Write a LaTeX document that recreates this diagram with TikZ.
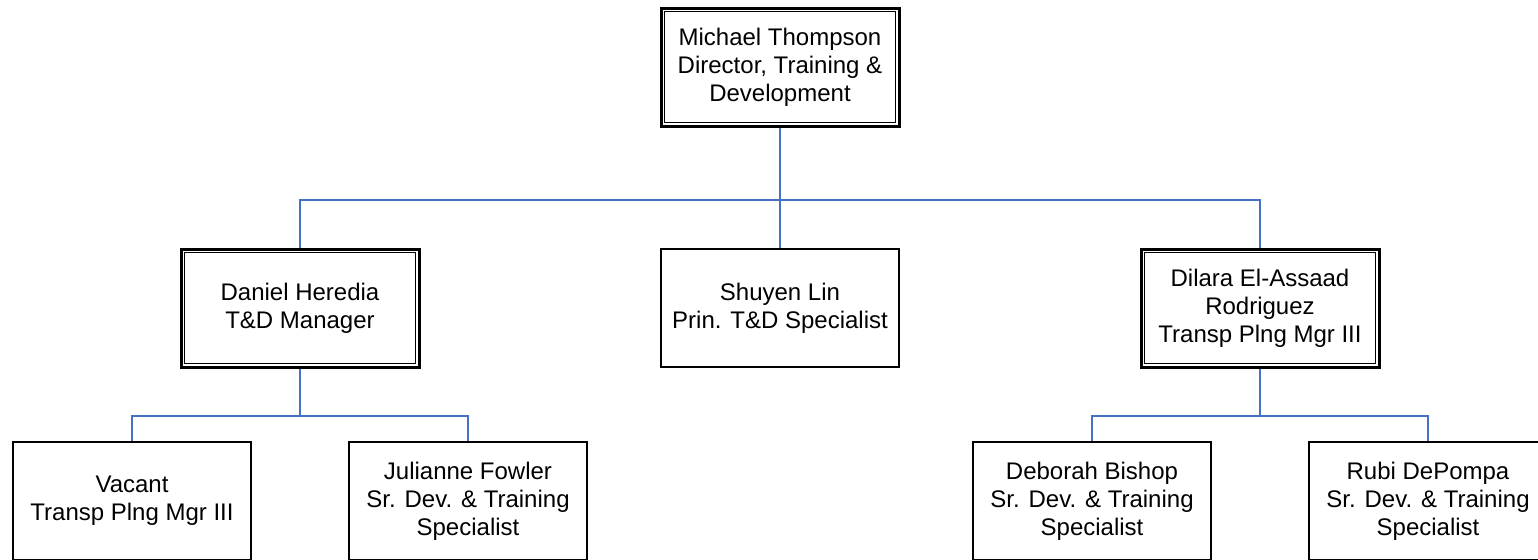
\documentclass[tikz,border=0pt]{standalone}
\usepackage{fontspec}
\setmainfont{Liberation Sans}
\usepackage{xcolor}
\usepackage{tikz}
\usetikzlibrary{positioning}
\definecolor{linkblue}{HTML}{4472C4}
\tikzstyle{person} = [rectangle, minimum width=119pt, minimum height=59pt, text centered, align=center, draw=black, line width=0.85pt, font=\fontsize{12}{14}\selectfont]
\tikzstyle{head} = [person, line width=1.5pt]
\tikzstyle{link} = [draw=linkblue, line width=0.65pt]

\begin{document}
\begin{tikzpicture}[x=0.5pt, y=-0.5pt]
	\useasboundingbox (0,0) rectangle (1538,559);
	
	% Nodes
	\node (thompson) [head] at (780,67) {Michael Thompson\\Director, Training \&\\Development};
	\node (heredia) [head] at (300,308) {Daniel Heredia\\T\&D Manager};
	\node (lin) [person] at (780,308) {Shuyen Lin\\Prin. T\&D Specialist};
	\node (elassaad) [head] at (1260,308) {Dilara El-Assaad\\Rodriguez\\Transp Plng Mgr III};
	\node (vacant) [person] at (132,501) {Vacant\\Transp Plng Mgr III};
	\node (fowler) [person] at (468,501) {Julianne Fowler\\Sr. Dev. \& Training\\Specialist};
	\node (bishop) [person] at (1092,501) {Deborah Bishop\\Sr. Dev. \& Training\\Specialist};
	\node (depompa) [person] at (1428,501) {Rubi DePompa\\Sr. Dev. \& Training\\Specialist};
	
	% Inner frames
	\foreach \n in {thompson, heredia, elassaad}
		\draw [line width=0.7pt] ([shift={(2.4pt,-2.4pt)}]\n.north west) rectangle ([shift={(-2.4pt,2.4pt)}]\n.south east);
	
	% Lines
	\coordinate (topbus) at (780,200);
	\coordinate (leftbus) at (300,416);
	\coordinate (rightbus) at (1260,416);
	\draw [link] (thompson.south) -- (lin.north);
	\draw [link] (topbus) -| (heredia.north);
	\draw [link] (topbus) -| (elassaad.north);
	\draw [link] (heredia.south) -- (leftbus) -| (vacant.north);
	\draw [link] (leftbus) -| (fowler.north);
	\draw [link] (elassaad.south) -- (rightbus) -| (bishop.north);
	\draw [link] (rightbus) -| (depompa.north);
	
\end{tikzpicture}
\end{document}
